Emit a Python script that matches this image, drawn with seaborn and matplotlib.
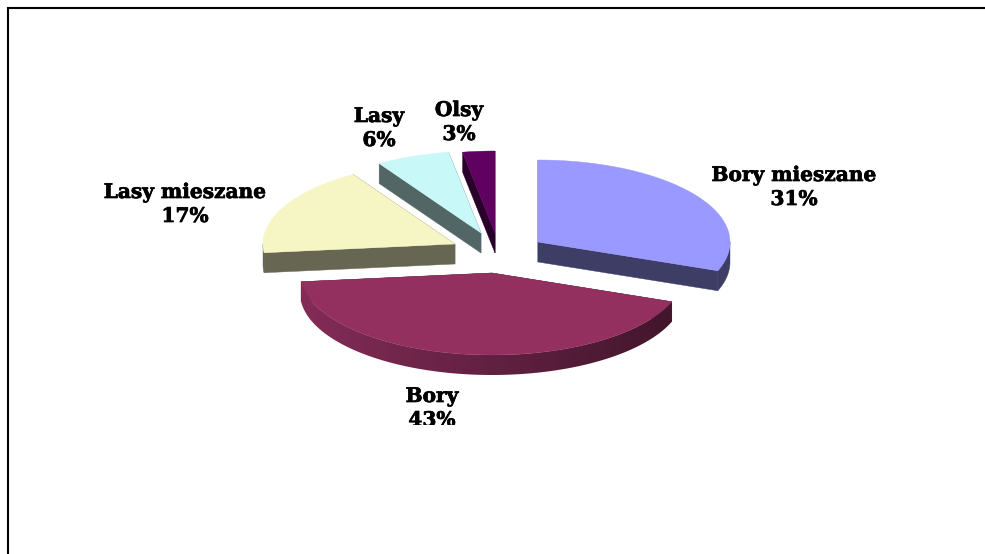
import matplotlib
matplotlib.use('Agg')
import matplotlib.patheffects as pe
import matplotlib.pyplot as plt
from matplotlib.colors import LinearSegmentedColormap, to_rgb
from matplotlib.patches import Polygon, Rectangle
import numpy as np
import seaborn as sns

# shares, labels as printed on the chart
categories = ['Bory mieszane', 'Bory', 'Lasy mieszane', 'Lasy', 'Olsy']
shares = [30.7, 42.6, 17.8, 6.2, 2.7]
printed_pct = [31, 43, 17, 6, 3]

# base colour of each side face, top colour is a little different in the picture
base_colors = ['#9999FF', '#993366', '#FFFFCC', '#CCFFFF', '#660066']
top_colors = ['#9999FF', '#93305F', '#F6F6C4', '#C8F8F8', '#600060']

# layout, in pixels of the 985x554 picture
apex = [(538, 242), (492, 273), (455, 244), (481, 233), (495, 233)]
label_pos = [(794, 187), (432, 408), (185, 204), (379, 128), (459, 122)]
RX, RY, DEPTH = 192, 82, 20

sns.set_theme(style='white')
plt.rcParams['font.family'] = ['DejaVu Serif']

fig = plt.figure(figsize=(9.85, 5.54), dpi=100)
ax = fig.add_axes([0, 0, 1, 1])
ax.axis('off')


def rim(cx, cy, a):
    # a is clockwise from 12 o'clock, in radians
    return cx + RX * np.sin(a), cy - RY * np.cos(a)


def shade(color, f):
    return tuple(c * f for c in to_rgb(color))


edges = np.radians(np.cumsum([0] + shares) * 3.6)

for i, name in enumerate(categories):
    cx, cy = apex[i]
    a0, a1 = edges[i], edges[i + 1]
    dark = shade(base_colors[i], 0.4)

    # the two straight cut faces
    for a in (a0, a1):
        x, y = rim(cx, cy, a)
        ax.add_patch(Polygon([(cx, cy), (x, y), (x, y + DEPTH), (cx, cy + DEPTH)],
                             fc=dark, ec=dark, lw=0.3))

    # outer rim, only the front half shows
    lo, hi = max(a0, np.pi / 2), min(a1, 3 * np.pi / 2)
    if hi > lo:
        t = np.linspace(lo, hi, 120)
        xs, ys = rim(cx, cy, t)
        outline = list(zip(xs, ys)) + list(zip(xs[::-1], ys[::-1] + DEPTH))
        if i == 1:
            # only the big slice has a visible gradient on its rim, light on the left
            cmap = LinearSegmentedColormap.from_list(
                'rim', [shade(base_colors[i], 0.86), shade(base_colors[i], 0.42)])
            band = Polygon(outline, fc='none', ec='none')
            ax.add_patch(band)
            im = ax.imshow(np.linspace(0, 1, 256).reshape(1, -1), cmap=cmap, aspect='auto',
                           extent=(cx - RX, cx + RX, cy + RY + DEPTH, cy - RY), zorder=2)
            im.set_clip_path(band)
        else:
            ax.add_patch(Polygon(outline, fc=dark, ec=dark, lw=0.3, zorder=2))

    # top of the slice
    t = np.linspace(a0, a1, 120)
    xs, ys = rim(cx, cy, t)
    pts = [(cx, cy)] + list(zip(xs, ys))
    ax.add_patch(Polygon(pts, fc=top_colors[i], ec=top_colors[i], lw=0.3, zorder=3))

# imshow resets the limits, so they go here
ax.set_xlim(0, 985)
ax.set_ylim(554, 0)

# labels, the last line of Bory is cut off in the original
clip = Rectangle((0, 0), 985, 425, transform=ax.transData)
for name, pct, (x, y) in zip(categories, printed_pct, label_pos):
    txt = ax.text(x, y, f'{name}\n{pct}%', ha='center', va='center',
                  fontsize=14.5, fontweight='bold', color='black', linespacing=1.25,
                  zorder=5,
                  path_effects=[pe.withStroke(linewidth=0.5, foreground='black')])
    txt.set_clip_path(clip)
    txt.set_clip_on(True)

# frame of the slide
ax.plot([8, 8, 985], [554, 8, 8], color='black', lw=1.5, solid_joinstyle='miter',
        clip_on=False)

fig.savefig('out.png', dpi=100, facecolor='white')
